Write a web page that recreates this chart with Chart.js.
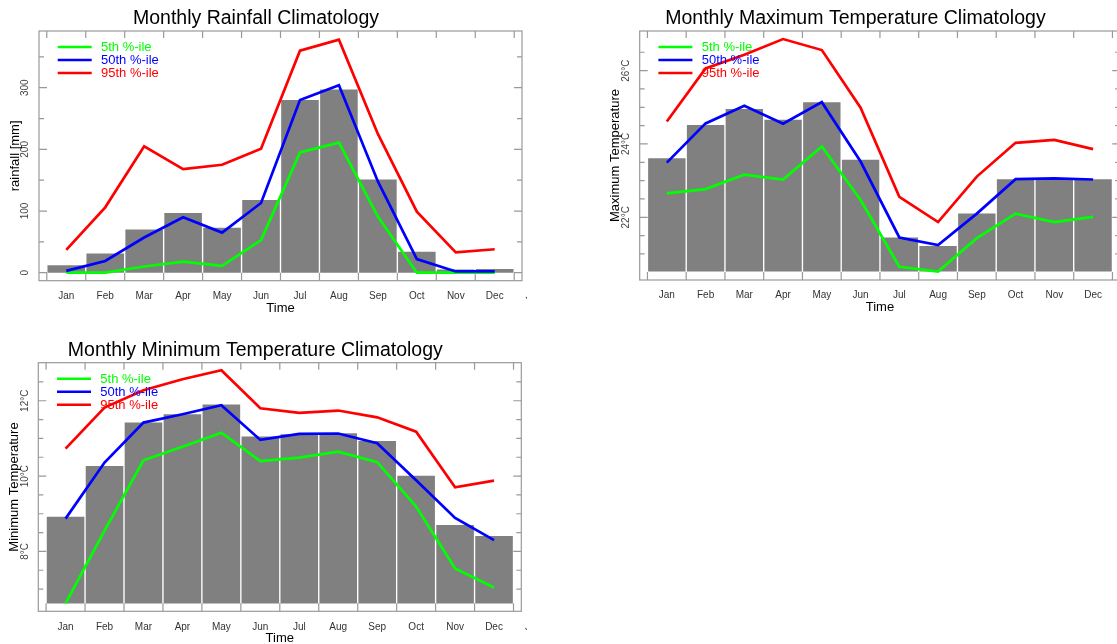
<!DOCTYPE html>
<html><head><meta charset="utf-8">
<script src="https://cdn.jsdelivr.net/npm/chart.js@4/dist/chart.umd.min.js"></script>
<style>
html,body{margin:0;padding:0;background:#fff;overflow:hidden;width:1117px;height:644px;position:relative;}
canvas{position:absolute;}
</style></head><body>
<canvas id="c1"></canvas><canvas id="c2"></canvas><canvas id="c3"></canvas>
<script>
// ---------- data ----------
const months = ['Jan','Feb','Mar','Apr','May','Jun','Jul','Aug','Sep','Oct','Nov','Dec'];
const xTickLabels = ['Jan','Feb','Mar','Apr','May','Jun','Jul','Aug','Sep','Oct','Nov','Dec','Jan'];
const legendLabels = ['5th %-ile','50th %-ile','95th %-ile'];

const rainBars = [12,31,70,97,73,118,280,297,151,34,5,6];
const rainP5   = [0,0,10,18,11,53,195,211,91,0,0,0];
const rainP50  = [3,19,57,90,65,113,280,304,148,22,2,2];
const rainP95  = [37,106,205,168,175,201,360,378,225,99,33,38];
const rainMajor = [0,100,200,300];
const rainMinor = [50,150,250,350];
const rainTickLabels = ['0','100','200','300'];

const tmaxBars = [23.61,24.52,24.95,24.66,25.14,23.57,21.45,21.22,22.10,23.04,23.04,23.04];
const tmaxP5   = [22.65,22.77,23.16,23.03,23.93,22.47,20.65,20.52,21.43,22.10,21.87,22.01];
const tmaxP50  = [23.49,24.56,25.04,24.55,25.14,23.52,21.45,21.24,22.10,23.04,23.06,23.03];
const tmaxP95  = [24.61,26.06,26.43,26.86,26.56,24.99,22.56,21.87,23.11,24.03,24.11,23.86];
const tmaxMajor = [22,24,26];
const tmaxMinor = [21,21.5,22.5,23,23.5,24.5,25,25.5,26.5];
const tmaxTickLabels = ['22°C','24°C','26°C'];

const tminBars = [8.92,10.27,11.42,11.64,11.90,11.05,11.11,11.14,10.93,10.01,8.70,8.41];
const tminP5   = [6.62,8.55,10.42,10.78,11.15,10.40,10.49,10.65,10.37,9.19,7.55,7.04];
const tminP50  = [8.87,10.36,11.42,11.64,11.88,10.96,11.12,11.13,10.87,9.89,8.89,8.30];
const tminP95  = [10.73,11.82,12.28,12.57,12.81,11.80,11.68,11.74,11.56,11.18,9.70,9.88];
const tminMajor = [8,10,12];
const tminMinor = [7,7.5,8.5,9,9.5,10.5,11,11.5,12.5];
const tminTickLabels = ['8°C','10°C','12°C'];

// ---------- styling / layout ----------
const lineColors = ['#00ff00','#0000ff','#ff0000'];
const barColor = '#808080';
const frameColor = '#999999';
const FONT = '"Liberation Sans", Arial, sans-serif';

const panels = [
  {id:'c1', left:0, top:0, width:527, height:322, area:{l:39, t:31, r:522, b:280.7},
   yMin:-13, yMax:392, title:'Monthly Rainfall Climatology', yTitle:'rainfall [mm]',
   bars:rainBars, p5:rainP5, p50:rainP50, p95:rainP95, major:rainMajor, minor:rainMinor, tickLabels:rainTickLabels},
  {id:'c2', left:560, top:0, width:570, height:322, area:{l:79.7, t:31, r:560.2, b:280},
   yMin:20.29, yMax:27.08, title:'Monthly Maximum Temperature Climatology', yTitle:'Maximum Temperature',
   bars:tmaxBars, p5:tmaxP5, p50:tmaxP50, p95:tmaxP95, major:tmaxMajor, minor:tmaxMinor, tickLabels:tmaxTickLabels},
  {id:'c3', left:0, top:322, width:527, height:322, area:{l:38.3, t:40.7, r:521.3, b:289.3},
   yMin:6.41, yMax:13.01, title:'Monthly Minimum Temperature Climatology', yTitle:'Minimum Temperature',
   bars:tminBars, p5:tminP5, p50:tminP50, p95:tminP95, major:tminMajor, minor:tminMinor, tickLabels:tminTickLabels}
];

function framePlugin(p){
  return {
    id:'frame_'+p.id,
    afterDraw(chart){
      const ctx = chart.ctx, a = chart.chartArea, xs = chart.scales.x, ys = chart.scales.y;
      ctx.save();
      // frame
      ctx.strokeStyle = frameColor; ctx.lineWidth = 1.2;
      ctx.strokeRect(a.left, a.top, a.right - a.left, a.bottom - a.top);
      ctx.beginPath();
      p.major.forEach(v => { const y = ys.getPixelForValue(v);
        ctx.moveTo(a.left, y); ctx.lineTo(a.left + 8, y);
        ctx.moveTo(a.right, y); ctx.lineTo(a.right - 8, y); });
      p.minor.forEach(v => { const y = ys.getPixelForValue(v);
        ctx.moveTo(a.left, y); ctx.lineTo(a.left + 5, y);
        ctx.moveTo(a.right, y); ctx.lineTo(a.right - 5, y); });
      for (let i = 0; i <= months.length; i++) {
        const x = xs.getPixelForValue(i - 0.5);
        ctx.moveTo(x, a.top); ctx.lineTo(x, a.top + 7);
        ctx.moveTo(x, a.bottom); ctx.lineTo(x, a.bottom - 8);
      }
      ctx.stroke();
      // x tick labels
      ctx.textAlign = 'center'; ctx.textBaseline = 'middle';
      ctx.fillStyle = '#333'; ctx.font = '10px ' + FONT;
      xTickLabels.forEach((m, i) => ctx.fillText(m, xs.getPixelForValue(i), a.bottom + 15.5));
      // x title
      ctx.fillStyle = '#000'; ctx.font = '13px ' + FONT;
      ctx.fillText('Time', (a.left + a.right) / 2, a.bottom + 27.5);
      // chart title
      ctx.font = '19.5px ' + FONT;
      ctx.fillText(p.title, (a.left + a.right) / 2 - 24.5, a.top - 12.5);
      // y tick labels
      p.major.forEach((v, k) => {
        ctx.save();
        ctx.translate(a.left - 13.5, ys.getPixelForValue(v));
        ctx.rotate(-Math.PI / 2);
        ctx.fillStyle = '#444'; ctx.font = '10px ' + FONT;
        ctx.fillText(p.tickLabels[k], 0, 0);
        ctx.restore();
      });
      // y title
      ctx.save();
      ctx.translate(a.left - 24, (a.top + a.bottom) / 2);
      ctx.rotate(-Math.PI / 2);
      ctx.fillStyle = '#000'; ctx.font = '13px ' + FONT;
      ctx.fillText(p.yTitle, 0, 0);
      ctx.restore();
      // legend
      legendLabels.forEach((t, k) => {
        const y = a.top + 16 + 13 * k;
        ctx.strokeStyle = lineColors[k]; ctx.lineWidth = 2.4;
        ctx.beginPath(); ctx.moveTo(a.left + 18.7, y); ctx.lineTo(a.left + 52.7, y); ctx.stroke();
        ctx.fillStyle = lineColors[k]; ctx.font = '13px ' + FONT; ctx.textAlign = 'left';
        ctx.fillText(t, a.left + 62, y + 0.5);
      });
      ctx.restore();
    }
  };
}

function makePanel(p){
  const cv = document.getElementById(p.id);
  cv.width = p.width; cv.height = p.height;
  cv.style.left = p.left + 'px'; cv.style.top = p.top + 'px';
  cv.style.width = p.width + 'px'; cv.style.height = p.height + 'px';
  const base = Math.min(...p.bars, ...p.p5, ...p.p50, ...p.p95);
  const series = [p.p5, p.p50, p.p95];
  const datasets = series.map((s, k) => ({
    type:'line', label:legendLabels[k],
    data:s.map((v, i) => ({x:i, y:v})),
    borderColor:lineColors[k], borderWidth:2.7, pointRadius:0, tension:0, fill:false, order:3 - k
  }));
  datasets.push({
    type:'bar', label:'mean',
    data:p.bars.map((v, i) => ({x:i, y:[base, v]})),
    backgroundColor:barColor, borderWidth:0, barPercentage:0.965, categoryPercentage:1, order:10
  });
  new Chart(cv, {
    type:'bar',
    data:{datasets},
    options:{
      responsive:false, animation:false, devicePixelRatio:1,
      layout:{padding:{left:p.area.l, top:p.area.t, right:p.width - p.area.r, bottom:p.height - p.area.b}},
      plugins:{legend:{display:false}, title:{display:false}, tooltip:{enabled:false}},
      scales:{
        x:{type:'linear', min:-0.7, max:11.7, display:false, offset:false, grid:{offset:false},
           afterBuildTicks:(s) => { s.ticks = months.map((m, i) => ({value:i})); }},
        y:{type:'linear', min:p.yMin, max:p.yMax, display:false}
      }
    },
    plugins:[framePlugin(p)]
  });
}
panels.forEach(makePanel);
</script>
</body></html>
